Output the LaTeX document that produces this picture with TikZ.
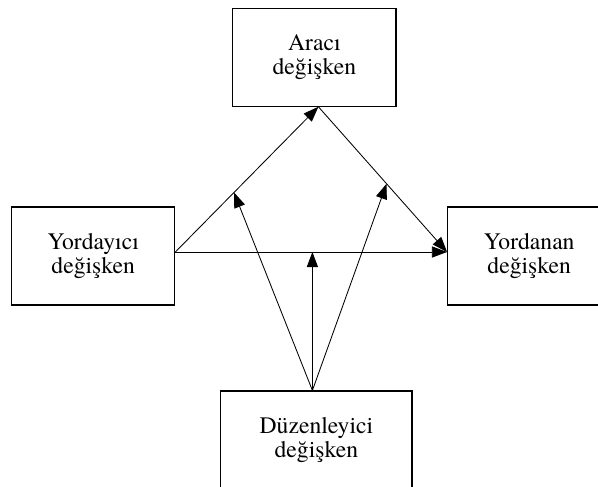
\documentclass[tikz,border=0pt]{standalone}
\usepackage{fontspec}
\setmainfont{TeX Gyre Termes}
\usetikzlibrary{arrows.meta,calc}
\begin{document}
\begin{tikzpicture}[
  varbox/.style={draw,line width=0.8pt,minimum width=4.08cm,minimum height=2.45cm,inner sep=0pt,align=center,font=\rmfamily\fontsize{16.8}{17.1}\selectfont},
  arrline/.style={line width=0.6pt,-{Triangle[length=3.8mm,width=2.8mm]}}]
\useasboundingbox (0,0) rectangle (14.95,-12.15);
\pgfmathsetmacro{\yc}{-6.4}
\node[varbox] (araci) at (7.86,-1.43) {Aracı\\değişken};
\node[varbox] (yordayici) at (2.33,\yc) {Yordayıcı\\değişken};
\node[varbox] (yordanan) at (13.23,\yc) {Yordanan\\değişken};
\node[varbox,minimum width=4.78cm] (duzenleyici) at (7.91,-11.0) {Düzenleyici\\değişken};
  \coordinate (yo) at ([yshift=1mm]yordayici.east);
  \coordinate (yn) at ([yshift=1mm]yordanan.west);
  \coordinate (ar) at ([xshift=1mm]araci.south);
  \coordinate (dz) at ([xshift=-1mm]duzenleyici.north);
  \coordinate (m1) at ($(yo)!0.41!(ar)$);
  \coordinate (m2) at ($(ar)!0.53!(yn)$);
  \draw[arrline](yo)--(ar);
  \draw[arrline](ar)--(yn);
  \draw[arrline](yo)--(yn);
  \draw[arrline](dz)--(dz|-yo);
  \draw[arrline](dz)--(m1);
  \draw[arrline](dz)--(m2);
\end{tikzpicture}
\end{document}
